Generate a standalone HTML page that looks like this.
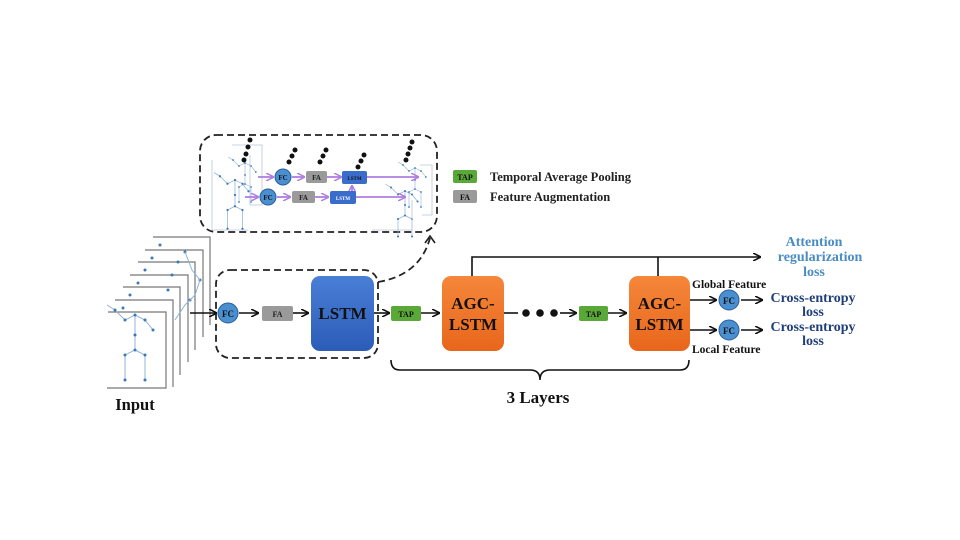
<!DOCTYPE html>
<html><head><meta charset="utf-8"><style>
html,body{margin:0;padding:0;background:#fff;}
svg{display:block;font-family:"Liberation Serif",serif;font-weight:bold;}
</style></head><body>
<svg width="960" height="540" viewBox="0 0 960 540" xmlns="http://www.w3.org/2000/svg">
<defs>
<linearGradient id="blu" x1="0" y1="0" x2="0" y2="1"><stop offset="0" stop-color="#4a7fd6"/><stop offset="1" stop-color="#2c5cb8"/></linearGradient>
<linearGradient id="org" x1="0" y1="0" x2="0" y2="1"><stop offset="0" stop-color="#f5873a"/><stop offset="1" stop-color="#e8661c"/></linearGradient>
<marker id="ah" markerWidth="8" markerHeight="8" refX="7" refY="4" orient="auto" markerUnits="userSpaceOnUse"><path d="M0,0 L8,4 L0,8" fill="none" stroke="#111" stroke-width="1.6"/></marker>
<marker id="ap" markerWidth="8" markerHeight="8" refX="7" refY="4" orient="auto" markerUnits="userSpaceOnUse"><path d="M0,0 L8,4 L0,8" fill="none" stroke="#b07ee0" stroke-width="1.5"/></marker>
<g id="skel" fill="none" stroke="#8fb3d6" stroke-width="1">
<path d="M-20,-25 L-10,-15 L0,-20 L10,-15 L18,-5 M0,-20 L0,15 L-10,20 L-10,45 M0,15 L10,20 L10,45 M-20,-25 L-28,-30"/>
<g fill="#3a78b8" stroke="none"><circle cx="-20" cy="-25" r="1.5"/><circle cx="-10" cy="-15" r="1.5"/><circle cx="0" cy="-20" r="1.5"/><circle cx="10" cy="-15" r="1.5"/><circle cx="18" cy="-5" r="1.5"/><circle cx="0" cy="0" r="1.5"/><circle cx="0" cy="15" r="1.5"/><circle cx="-10" cy="20" r="1.5"/><circle cx="10" cy="20" r="1.5"/><circle cx="-10" cy="45" r="1.5"/><circle cx="10" cy="45" r="1.5"/></g>
</g>
</defs>

<!-- Input stack -->
<g>
<g stroke="#777" stroke-width="1.2" fill="#fff">
<path d="M153,237 L210,237 L210,325"/>
<path d="M145,250 L203,250 L203,337"/>
<path d="M138,262 L195,262 L195,350"/>
<path d="M130,275 L188,275 L188,362"/>
<path d="M123,287 L180,287 L180,375"/>
<path d="M115,300 L173,300 L173,387"/>
</g>
<rect x="107" y="312" width="59" height="76" fill="#fff"/>
<path d="M107,388 L166,388 L166,312 L108,312" fill="none" stroke="#777" stroke-width="1.2"/>
<use href="#skel" x="135" y="335"/>
<g fill="#3a78b8"><circle cx="160" cy="245" r="1.5"/><circle cx="152" cy="258" r="1.5"/><circle cx="145" cy="270" r="1.5"/><circle cx="138" cy="283" r="1.5"/><circle cx="130" cy="295" r="1.5"/><circle cx="123" cy="308" r="1.5"/><circle cx="185" cy="252" r="1.5"/><circle cx="178" cy="262" r="1.5"/><circle cx="172" cy="275" r="1.5"/><circle cx="168" cy="290" r="1.5"/><circle cx="200" cy="280" r="1.5"/><circle cx="190" cy="300" r="1.5"/></g>
<path d="M185,252 L192,270 L200,280 L195,295 L185,305 L175,320" fill="none" stroke="#8fb3d6"/>
<text x="135" y="410" font-size="16.5" text-anchor="middle" fill="#111">Input</text>
</g>

<!-- top dashed box -->
<rect x="200" y="135" width="237" height="97" rx="16" fill="none" stroke="#222" stroke-width="1.8" stroke-dasharray="7,4"/>
<g transform="translate(235,195) scale(0.75)"><use href="#skel"/></g>
<g transform="translate(245,175) scale(0.6)"><use href="#skel"/></g>
<path d="M212,160 L212,230 M212,230 L248,230 M250,155 L250,205 L262,205 L262,145 L232,145" fill="none" stroke="#b8c8dc" stroke-width="0.8"/>
<g transform="translate(405,205) scale(0.7)"><use href="#skel"/></g>
<g transform="translate(415,180) scale(0.6)"><use href="#skel"/></g>
<path d="M372,230 L412,230 L412,200 M420,165 L432,165 L432,215 L422,215" fill="none" stroke="#b8c8dc" stroke-width="0.8"/>
<g fill="#111">
<circle cx="250" cy="140" r="2.5"/><circle cx="248" cy="147" r="2.5"/><circle cx="246" cy="154" r="2.5"/><circle cx="244" cy="160" r="2.5"/>
<circle cx="295" cy="150" r="2.5"/><circle cx="292" cy="156" r="2.5"/><circle cx="289" cy="162" r="2.5"/>
<circle cx="326" cy="150" r="2.5"/><circle cx="323" cy="156" r="2.5"/><circle cx="320" cy="162" r="2.5"/>
<circle cx="364" cy="155" r="2.5"/><circle cx="361" cy="161" r="2.5"/><circle cx="358" cy="167" r="2.5"/>
<circle cx="412" cy="142" r="2.5"/><circle cx="410" cy="148" r="2.5"/><circle cx="408" cy="154" r="2.5"/><circle cx="406" cy="160" r="2.5"/>
</g>
<g stroke="#b07ee0" stroke-width="1.8" fill="none">
<path d="M258,177 L273,177" marker-end="url(#ap)"/>
<path d="M292,177 L304,177" marker-end="url(#ap)"/>
<path d="M327,177 L341,177" marker-end="url(#ap)"/>
<path d="M367,177 L418,177" marker-end="url(#ap)"/>
<path d="M245,197 L258,197" marker-end="url(#ap)"/>
<path d="M277,197 L290,197" marker-end="url(#ap)"/>
<path d="M315,197 L328,197" marker-end="url(#ap)"/>
<path d="M356,197 L405,197" marker-end="url(#ap)"/>
<path d="M352,191 L352,186" marker-end="url(#ap)"/>
</g>
<circle cx="283" cy="177" r="8" fill="#4a8fd0" stroke="#2a5f9a"/><text x="283" y="180" font-size="7" text-anchor="middle" fill="#111">FC</text>
<rect x="306" y="171" width="21" height="12" rx="2" fill="#9a9a9a"/><text x="316.5" y="180" font-size="7" text-anchor="middle" fill="#222">FA</text>
<rect x="342" y="171" width="25" height="13" rx="2" fill="#3a6ccc"/><text x="354.5" y="180" font-size="5" text-anchor="middle" fill="#111">LSTM</text>
<circle cx="268" cy="197" r="8" fill="#4a8fd0" stroke="#2a5f9a"/><text x="268" y="200" font-size="7" text-anchor="middle" fill="#111">FC</text>
<rect x="292" y="191" width="23" height="12" rx="2" fill="#9a9a9a"/><text x="303.5" y="200" font-size="7" text-anchor="middle" fill="#222">FA</text>
<rect x="330" y="191" width="26" height="13" rx="2" fill="#3a6ccc"/><text x="343" y="200" font-size="5" text-anchor="middle" fill="#fff">LSTM</text>

<!-- legend -->
<rect x="453" y="170" width="24" height="13" rx="2" fill="#5aa838"/><text x="465" y="180" font-size="8" text-anchor="middle" fill="#111">TAP</text>
<text x="490" y="181" font-size="12.5" fill="#222">Temporal Average Pooling</text>
<rect x="453" y="190" width="24" height="13" rx="2" fill="#9a9a9a"/><text x="465" y="200" font-size="8" text-anchor="middle" fill="#111">FA</text>
<text x="490" y="201" font-size="12.5" fill="#222">Feature Augmentation</text>

<!-- bottom dashed box & curve -->
<rect x="216" y="270" width="162" height="88" rx="14" fill="none" stroke="#222" stroke-width="1.8" stroke-dasharray="7,4"/>
<path d="M378,282 Q420,275 430,238" fill="none" stroke="#222" stroke-width="1.8" stroke-dasharray="7,4"/>
<path d="M425,243 L430,236 L435,243" fill="none" stroke="#222" stroke-width="1.6"/>

<g stroke="#111" stroke-width="1.6" fill="none">
<path d="M190,313 L216,313" marker-end="url(#ah)"/>
<path d="M239,313 L258,313" marker-end="url(#ah)"/>
<path d="M293,313 L308,313" marker-end="url(#ah)"/>
<path d="M374,313 L389,313" marker-end="url(#ah)"/>
<path d="M421,313 L439,313" marker-end="url(#ah)"/>
<path d="M504,313 L518,313"/>
<path d="M560,313 L576,313" marker-end="url(#ah)"/>
<path d="M608,313 L626,313" marker-end="url(#ah)"/>
<path d="M472,276 L472,257 L760,257" marker-end="url(#ah)"/>
<path d="M658,257 L658,276"/>
<path d="M690,300 L716,300" marker-end="url(#ah)"/>
<path d="M690,330 L716,330" marker-end="url(#ah)"/>
<path d="M741,300 L762,300" marker-end="url(#ah)"/>
<path d="M741,330 L762,330" marker-end="url(#ah)"/>
<path d="M391,360 Q391,370 400,370 L530,370 Q540,370 540,380 Q540,370 550,370 L680,370 Q689,370 689,360"/>
</g>
<g fill="#111"><circle cx="526" cy="313" r="3.8"/><circle cx="540" cy="313" r="3.8"/><circle cx="554" cy="313" r="3.8"/></g>

<circle cx="228" cy="313" r="10" fill="#4a8fd0" stroke="#2a5f9a"/><text x="228" y="317" font-size="9" text-anchor="middle" fill="#111">FC</text>
<rect x="262" y="306" width="31" height="15" rx="2" fill="#9a9a9a"/><text x="277.5" y="317" font-size="8" text-anchor="middle" fill="#222">FA</text>
<rect x="311" y="276" width="63" height="75" rx="9" fill="url(#blu)"/><text x="342.5" y="319" font-size="17" text-anchor="middle" fill="#111">LSTM</text>
<rect x="391" y="306" width="30" height="15" rx="2" fill="#5aa838"/><text x="406" y="317" font-size="8" text-anchor="middle" fill="#111">TAP</text>
<rect x="442" y="276" width="62" height="75" rx="9" fill="url(#org)"/>
<text x="473" y="309" font-size="17" text-anchor="middle" fill="#111">AGC-</text><text x="473" y="330" font-size="17" text-anchor="middle" fill="#111">LSTM</text>
<rect x="579" y="306" width="29" height="15" rx="2" fill="#5aa838"/><text x="593.5" y="317" font-size="8" text-anchor="middle" fill="#111">TAP</text>
<rect x="629" y="276" width="61" height="75" rx="9" fill="url(#org)"/>
<text x="659.5" y="309" font-size="17" text-anchor="middle" fill="#111">AGC-</text><text x="659.5" y="330" font-size="17" text-anchor="middle" fill="#111">LSTM</text>

<circle cx="729" cy="300" r="10" fill="#4a8fd0" stroke="#2a5f9a"/><text x="729" y="304" font-size="9" text-anchor="middle" fill="#111">FC</text>
<circle cx="729" cy="330" r="10" fill="#4a8fd0" stroke="#2a5f9a"/><text x="729" y="334" font-size="9" text-anchor="middle" fill="#111">FC</text>
<text x="692" y="288" font-size="11.5" fill="#111">Global Feature</text>
<text x="692" y="353" font-size="11.5" fill="#111">Local Feature</text>
<g font-size="14" text-anchor="middle">
<text x="814" y="246" fill="#4a8bc4">Attention</text>
<text x="820" y="261" fill="#4a8bc4">regularization</text>
<text x="814" y="276" fill="#4a8bc4">loss</text>
<text x="813" y="302" fill="#1f3f7a">Cross-entropy</text>
<text x="813" y="316" fill="#1f3f7a">loss</text>
<text x="813" y="331" fill="#1f3f7a">Cross-entropy</text>
<text x="813" y="345" fill="#1f3f7a">loss</text>
</g>
<text x="538" y="403" font-size="17" text-anchor="middle" fill="#111">3 Layers</text>
</svg>
</body></html>
